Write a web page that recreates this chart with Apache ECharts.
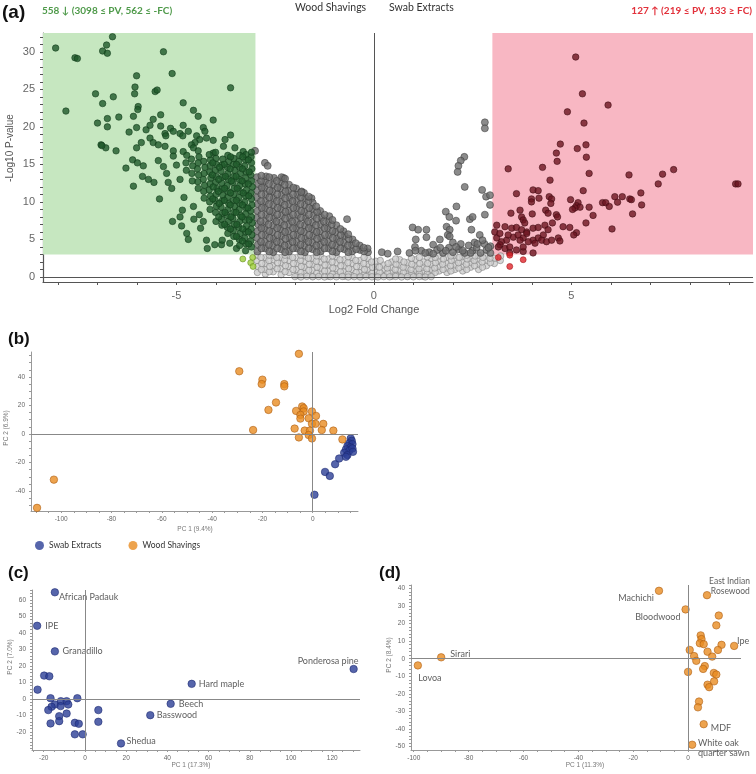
<!DOCTYPE html>
<html><head><meta charset="utf-8">
<script src="https://cdn.jsdelivr.net/npm/echarts@6/dist/echarts.min.js"></script>
<style>html,body{margin:0;padding:0;background:#fff}#c{width:756px;height:774px}</style>
</head><body><div id="c"></div><script>
// ---------- Panel (a) volcano data: [log2FC, -log10 P] ----------
var volcanoDownSig = [
[-8.06,30.5],[-6.62,32.0],[-6.77,30.9],[-6.87,30.1],[-6.75,29.8],[-7.57,29.2],[-7.51,29.1],[-5.33,30.0],[-5.11,27.1],[-6.01,26.8],[-3.63,25.2],[-6.05,25.3],[-6.06,24.4],[-5.54,24.7],[-5.49,24.9],[-7.05,24.4],[-6.6,24.0],[-6.87,23.1],[-7.8,22.1],[-5.97,22.7],[-5.98,22.3],[-4.83,23.2],[-4.57,22.2],[-6.46,21.3],[-6.75,21.1],[-6.09,21.4],[-5.4,21.6],[-5.59,21.0],[-4.45,21.4],[-4.07,20.9],[-7.0,20.5],[-6.75,20.0],[-6.2,19.3],[-6.01,19.9],[-5.77,19.6],[-5.67,20.2],[-5.4,20.1],[-5.15,19.8],[-5.08,19.4],[-4.83,20.2],[-5.29,19.1],[-5.27,18.8],[-4.91,19.1],[-4.84,18.8],[-4.7,19.4],[-4.32,19.9],[-4.28,19.4],[-4.49,18.8],[-4.41,18.3],[-4.53,17.9],[-4.24,18.5],[-4.07,18.2],[-3.77,18.3],[-3.63,18.9],[-6.91,17.6],[-6.79,17.2],[-6.53,16.8],[-6.01,17.2],[-5.89,17.9],[-5.67,18.5],[-5.59,17.9],[-5.46,17.6],[-5.29,17.4],[-5.08,16.8],[-4.83,16.7],[-4.62,17.6],[-4.57,17.2],[-4.45,16.8],[-4.07,16.5],[-3.81,17.4],[-3.52,17.2],[-3.31,16.7],
[-6.89,17.5],[-6.28,14.5],[-6.09,12.1],[-6.11,15.6],[-5.99,15.2],[-5.84,14.8],[-5.86,13.4],[-5.71,13.0],[-5.57,12.6],[-5.43,10.4],[-5.46,15.5],[-5.33,14.7],[-5.25,13.8],[-5.21,12.6],[-5.08,16.1],[-5.0,14.9],[-5.12,11.8],[-4.91,13.0],[-5.1,7.4],[-4.91,8.0],[-4.85,8.9],[-4.87,6.8],[-4.74,5.8],[-4.7,5.0],[-4.81,10.6],[-4.57,9.4],[-4.42,8.3],[-4.56,7.7],[-4.32,7.4],[-4.39,6.5],[-4.24,4.9],[-4.22,3.8],[-4.03,4.3],[-3.86,4.3],[-3.84,4.9],[-3.65,4.5],[-3.48,3.8],
[-3.1,4.0],[-3.12,4.8],[-3.09,5.6],[-3.11,6.4],[-3.08,7.2],[-3.1,8.0],[-3.12,8.8],[-3.09,9.6],[-3.1,10.4],[-3.11,11.2],[-3.08,12.0],[-3.1,12.8],[-3.12,13.6],[-3.09,14.4],[-3.1,15.2],[-3.11,16.0],[-3.1,16.6],
[-3.25,3.5],[-3.24,4.4],[-3.27,5.2],[-3.25,6.0],[-3.23,6.8],[-3.26,7.6],[-3.25,8.4],[-3.24,9.2],[-3.27,10.0],[-3.25,10.8],[-3.23,11.6],[-3.26,12.4],[-3.25,13.2],[-3.24,14.0],[-3.27,14.8],[-3.25,15.6],[-3.24,16.3],
[-3.4,4.2],[-3.41,5.0],[-3.39,5.8],[-3.42,6.6],[-3.4,7.4],[-3.38,8.2],[-3.41,9.0],[-3.4,9.8],[-3.42,10.6],[-3.39,11.4],[-3.4,12.2],[-3.41,13.0],[-3.38,13.8],[-3.4,14.6],[-3.42,15.4],[-3.4,16.2],
[-3.55,5.4],[-3.56,6.2],[-3.54,7.0],[-3.57,7.8],[-3.55,8.6],[-3.53,9.4],[-3.56,10.2],[-3.55,11.0],[-3.54,11.8],[-3.57,12.6],[-3.55,13.4],[-3.53,14.2],[-3.56,15.0],[-3.55,15.8],
[-3.7,5.8],[-3.71,6.6],[-3.69,7.4],[-3.72,8.2],[-3.7,9.0],[-3.68,9.8],[-3.71,10.6],[-3.7,11.4],[-3.72,12.2],[-3.69,13.0],[-3.7,13.8],[-3.71,14.6],[-3.68,15.4],[-3.7,16.2],
[-3.85,6.9],[-3.86,7.7],[-3.84,8.5],[-3.87,9.3],[-3.85,10.1],[-3.83,10.9],[-3.86,11.7],[-3.85,12.5],[-3.84,13.3],[-3.87,14.1],[-3.85,14.9],[-3.83,15.7],
[-4.0,7.4],[-4.01,8.6],[-3.99,9.4],[-4.02,10.2],[-4.0,11.0],[-3.98,11.8],[-4.01,12.6],[-4.0,13.4],[-4.02,14.2],[-3.99,15.0],[-4.0,15.8],[-4.01,16.6],
[-4.15,9.0],[-4.16,10.0],[-4.14,10.8],[-4.17,11.6],[-4.15,12.4],[-4.13,13.2],[-4.16,14.0],[-4.15,14.8],[-4.14,15.6],[-4.17,16.3],
[-4.3,10.5],[-4.31,11.4],[-4.29,12.2],[-4.32,13.0],[-4.3,13.8],[-4.28,14.6],[-4.31,15.4],
[-4.45,11.8],[-4.46,12.7],[-4.44,13.6],[-4.47,14.4],[-4.45,15.2],[-4.43,16.0],
[-4.6,12.8],[-4.61,13.8],[-4.59,14.8],[-4.62,15.7],[-4.75,14.2],[-4.76,15.2],[-4.74,16.2],
[-3.17,4.4],[-3.18,6.0],[-3.16,7.6],[-3.19,9.2],[-3.17,10.8],[-3.18,12.4],[-3.16,14.0],[-3.18,15.6],
[-3.33,4.8],[-3.32,6.4],[-3.34,8.0],[-3.33,9.6],[-3.31,11.2],[-3.34,12.8],[-3.33,14.4],[-3.32,16.0],
[-3.48,5.4],[-3.47,7.0],[-3.49,8.6],[-3.48,10.2],[-3.46,11.8],[-3.49,13.4],[-3.48,15.0],
[-3.63,6.4],[-3.62,8.0],[-3.64,9.6],[-3.63,11.2],[-3.61,12.8],[-3.64,14.4],[-3.63,16.0],
[-3.78,7.0],[-3.77,8.6],[-3.79,10.2],[-3.78,11.8],[-3.76,13.4],[-3.79,15.0],
[-3.93,8.0],[-3.92,9.8],[-3.94,11.4],[-3.93,13.0],[-3.91,14.6],[-4.08,10.4],[-4.07,12.0],[-4.09,13.6],[-4.08,15.2]
];
var volcanoDownNs = [[-3.32,2.4],[-3.07,2.6],[-3.12,1.9],[-3.06,1.4]];
var volcanoMidHigh = [
[-3.01,16.8],[-2.76,15.2],[-2.69,14.8],[-2.29,13.2],[-1.83,11.4],[-1.58,10.5],[-0.68,7.7],
[-2.95,3.4],[-2.94,4.3],[-2.96,5.2],[-2.95,6.1],[-2.93,7.0],[-2.96,7.9],[-2.95,8.8],[-2.94,9.7],[-2.96,10.6],[-2.95,11.5],[-2.93,12.4],[-2.96,13.3],
[-2.75,3.8],[-2.76,4.7],[-2.74,5.6],[-2.77,6.5],[-2.75,7.4],[-2.73,8.3],[-2.76,9.2],[-2.75,10.1],[-2.74,11.0],[-2.77,11.9],[-2.75,12.8],[-2.73,13.4],
[-2.55,3.3],[-2.56,4.2],[-2.54,5.1],[-2.57,6.0],[-2.55,6.9],[-2.53,7.8],[-2.56,8.7],[-2.55,9.6],[-2.54,10.5],[-2.57,11.4],[-2.55,12.3],[-2.53,13.2],
[-2.35,3.7],[-2.36,4.6],[-2.34,5.5],[-2.37,6.4],[-2.35,7.3],[-2.33,8.2],[-2.36,9.1],[-2.35,10.0],[-2.34,10.9],[-2.37,11.8],[-2.35,12.7],[-2.34,13.3],
[-2.15,3.4],[-2.16,4.3],[-2.14,5.2],[-2.17,6.1],[-2.15,7.0],[-2.13,7.9],[-2.16,8.8],[-2.15,9.7],[-2.14,10.6],[-2.17,11.5],[-2.15,12.3],
[-1.95,3.8],[-1.96,4.7],[-1.94,5.6],[-1.97,6.5],[-1.95,7.4],[-1.93,8.3],[-1.96,9.2],[-1.95,10.1],[-1.94,11.0],[-1.97,11.8],
[-1.75,3.3],[-1.76,4.2],[-1.74,5.1],[-1.77,6.0],[-1.75,6.9],[-1.73,7.8],[-1.76,8.7],[-1.75,9.6],[-1.74,10.5],[-1.77,11.2],
[-1.55,3.7],[-1.56,4.6],[-1.54,5.5],[-1.57,6.4],[-1.55,7.3],[-1.53,8.2],[-1.56,9.1],[-1.55,9.9],
[-1.35,3.4],[-1.36,4.3],[-1.34,5.2],[-1.37,6.1],[-1.35,7.0],[-1.33,7.9],[-1.36,8.8],
[-1.15,3.8],[-1.16,4.7],[-1.14,5.6],[-1.17,6.5],[-1.15,7.4],[-1.13,8.1],
[-0.95,3.3],[-0.96,4.2],[-0.94,5.1],[-0.97,6.0],[-0.95,6.9],
[-0.75,3.7],[-0.76,4.6],[-0.74,5.5],[-0.77,6.1],
[-0.55,3.4],[-0.56,4.3],[-0.54,5.0],[-0.35,3.6],[-0.36,4.2],[-0.15,3.3],[-0.16,3.8],[0.2,3.3],[0.35,3.1],
[-2.85,3.8],[-2.86,4.7],[-2.84,5.6],[-2.85,6.5],[-2.87,7.4],[-2.85,8.3],[-2.84,9.2],[-2.86,10.1],[-2.85,11.0],[-2.84,11.9],[-2.86,12.8],[-2.85,13.5],
[-2.65,3.4],[-2.66,4.3],[-2.64,5.2],[-2.65,6.1],[-2.67,7.0],[-2.65,7.9],[-2.64,8.8],[-2.66,9.7],[-2.65,10.6],[-2.64,11.5],[-2.66,12.4],[-2.65,13.3],
[-2.45,3.8],[-2.46,4.7],[-2.44,5.6],[-2.45,6.5],[-2.47,7.4],[-2.45,8.3],[-2.44,9.2],[-2.46,10.1],[-2.45,11.0],[-2.44,11.9],[-2.46,12.8],
[-2.25,3.3],[-2.26,4.2],[-2.24,5.1],[-2.25,6.0],[-2.27,6.9],[-2.25,7.8],[-2.24,8.7],[-2.26,9.6],[-2.25,10.5],[-2.24,11.4],[-2.26,12.3],[-2.25,13.1],
[-2.05,3.8],[-2.06,4.7],[-2.04,5.6],[-2.05,6.5],[-2.07,7.4],[-2.05,8.3],[-2.04,9.2],[-2.06,10.1],[-2.05,11.0],[-2.04,11.9],
[-1.85,3.4],[-1.86,4.3],[-1.84,5.2],[-1.85,6.1],[-1.87,7.0],[-1.85,7.9],[-1.84,8.8],[-1.86,9.7],[-1.85,10.6],[-1.84,11.3],
[-1.65,3.8],[-1.66,4.7],[-1.64,5.6],[-1.65,6.5],[-1.67,7.4],[-1.65,8.3],[-1.64,9.2],[-1.66,10.1],[-1.65,10.7],
[-1.45,3.3],[-1.46,4.2],[-1.44,5.1],[-1.45,6.0],[-1.47,6.9],[-1.45,7.8],[-1.44,8.7],[-1.46,9.4],
[-1.25,3.8],[-1.26,4.7],[-1.24,5.6],[-1.25,6.5],[-1.27,7.4],[-1.25,8.3],
[-1.05,3.4],[-1.06,4.3],[-1.04,5.2],[-1.05,6.1],[-1.07,7.0],[-1.05,7.6],
[-0.85,3.8],[-0.86,4.7],[-0.84,5.6],[-0.85,6.4],[-0.65,3.3],[-0.66,4.2],[-0.64,5.1],[-0.65,5.7],
[-0.45,3.7],[-0.46,4.5],[-0.25,3.4],[-0.26,3.9],
[2.81,20.6],[2.81,19.8],[2.29,16.0],[2.2,15.5],[2.14,14.8],[2.12,14.0],[2.3,12.0],[2.74,11.6],[2.84,10.7],[2.94,10.9],[2.09,9.4],[2.94,9.6],[1.82,8.7],[1.91,8.0],[2.08,7.5],[2.43,7.7],[2.5,8.0],[2.81,8.3],[0.98,6.6],[1.12,6.3],[1.33,6.3],[1.84,6.7],[1.92,6.3],[1.87,5.6],[1.06,5.0],[1.33,5.3],[1.04,4.0],[1.5,4.3],[1.67,5.0],[1.92,5.4],[2.47,6.3],[2.68,5.6],
[1.4,3.3],[1.6,3.6],[1.75,3.2],[1.9,3.9],[2.0,3.3],[2.15,3.7],[2.3,3.2],[2.4,4.2],[2.5,3.5],[2.6,3.9],[2.7,3.2],[2.8,4.4],[2.85,3.6],[2.95,3.2],[2.95,4.1],[2.2,4.4],[2.0,4.6],[1.2,3.5],[0.9,3.2],[0.6,3.4],[2.55,4.6],[2.75,4.9],
[1.5,3.1],[1.68,3.9],[1.82,3.5],[2.08,4.0],[2.25,3.5],[2.45,3.2],[2.62,4.4],[2.9,3.9],[1.3,3.2],[1.05,3.5]
];
var volcanoMidLow = [
[-2.95,0.6],[-2.94,1.4],[-2.96,2.2],[-2.95,2.9],[-2.75,0.4],[-2.76,1.0],[-2.74,1.8],[-2.75,2.6],
[-2.55,0.7],[-2.56,1.5],[-2.54,2.3],[-2.55,2.9],[-2.35,0.3],[-2.36,1.1],[-2.34,1.9],[-2.35,2.6],
[-2.15,0.6],[-2.16,1.4],[-2.14,2.2],[-2.15,2.9],[-1.95,0.2],[-1.96,1.0],[-1.94,1.8],[-1.95,2.6],
[-1.75,0.5],[-1.76,1.3],[-1.74,2.1],[-1.75,2.8],[-1.55,0.1],[-1.56,0.9],[-1.54,1.7],[-1.55,2.5],
[-1.35,0.4],[-1.36,1.2],[-1.34,2.0],[-1.35,2.8],[-1.15,0.1],[-1.16,0.8],[-1.14,1.6],[-1.15,2.4],
[-0.95,0.3],[-0.96,1.1],[-0.94,1.9],[-0.95,2.7],[-0.75,0.1],[-0.76,0.7],[-0.74,1.5],[-0.75,2.3],
[-0.55,0.2],[-0.56,1.0],[-0.54,1.8],[-0.55,2.6],[-0.35,0.1],[-0.36,0.6],[-0.34,1.4],[-0.35,2.2],
[-0.15,0.3],[-0.16,1.0],[-0.14,1.7],[-0.15,2.5],[0.05,0.1],[0.06,0.7],[0.04,1.4],[0.05,2.1],
[0.25,0.3],[0.26,1.0],[0.24,1.6],[0.45,0.1],[0.46,0.6],[0.44,1.3],[0.45,2.0],
[0.65,0.3],[0.66,0.9],[0.64,1.6],[0.65,2.3],[0.85,0.1],[0.86,0.6],[0.84,1.2],[0.85,1.9],
[1.05,0.3],[1.06,0.9],[1.04,1.5],[1.05,2.3],[1.25,0.1],[1.26,0.7],[1.24,1.3],[1.25,2.0],
[1.45,0.4],[1.46,1.0],[1.44,1.7],[1.45,2.5],[1.65,0.8],[1.66,1.4],[1.64,2.1],[1.65,2.8],
[1.85,0.6],[1.86,1.2],[1.84,1.9],[1.85,2.6],[2.05,1.0],[2.06,1.6],[2.04,2.3],[2.05,2.9],
[2.25,0.8],[2.26,1.4],[2.24,2.1],[2.25,2.7],[2.45,1.3],[2.46,1.9],[2.44,2.5],
[2.65,1.0],[2.66,1.7],[2.64,2.4],[2.65,2.9],[2.85,1.5],[2.86,2.2],[2.84,2.8],[3.05,1.8],[3.06,2.5],[3.2,2.2],[3.21,2.8],
[-2.85,1.0],[-2.84,1.8],[-2.86,2.6],[-2.65,0.7],[-2.64,1.4],[-2.66,2.2],[-2.65,2.9],[-2.45,1.1],[-2.44,1.9],[-2.46,2.6],
[-2.25,0.7],[-2.24,1.5],[-2.26,2.3],[-2.25,2.9],[-2.05,1.0],[-2.04,1.8],[-2.06,2.6],[-1.85,0.6],[-1.84,1.4],[-1.86,2.2],[-1.85,2.9],
[-1.65,0.9],[-1.64,1.7],[-1.66,2.5],[-1.45,0.5],[-1.44,1.3],[-1.46,2.1],[-1.45,2.8],[-1.25,0.8],[-1.24,1.6],[-1.26,2.4],
[-1.05,0.4],[-1.04,1.2],[-1.06,2.0],[-1.05,2.8],[-0.85,0.7],[-0.84,1.5],[-0.86,2.3],[-0.65,0.4],[-0.64,1.1],[-0.66,1.9],[-0.65,2.7],
[-0.45,0.6],[-0.44,1.4],[-0.46,2.2],[-0.25,0.3],[-0.24,1.0],[-0.26,1.8],[-0.25,2.6],[-0.05,0.5],[-0.04,1.3],[-0.06,2.0],
[0.15,0.6],[0.14,1.3],[0.16,2.2],[0.35,0.5],[0.34,1.2],[0.36,1.8],[0.55,0.3],[0.54,1.0],[0.56,1.7],[0.55,2.4],
[0.75,0.6],[0.74,1.3],[0.76,2.0],[0.95,0.4],[0.94,1.0],[0.96,1.7],[0.95,2.5],[1.15,0.5],[1.14,1.1],[1.16,1.8],[1.15,2.6],
[1.35,0.4],[1.34,1.1],[1.36,1.8],[1.35,2.7],[1.55,0.6],[1.54,1.2],[1.56,1.9],[1.55,2.6],[1.75,1.0],[1.74,1.7],[1.76,2.4],
[1.95,0.8],[1.94,1.5],[1.96,2.2],[1.95,2.8],[2.15,1.2],[2.14,1.9],[2.16,2.6],[2.35,1.0],[2.34,1.7],[2.36,2.4],[2.35,2.9],
[2.55,1.5],[2.54,2.2],[2.56,2.8],[2.75,1.3],[2.74,2.0],[2.76,2.6],[2.95,1.9],[2.94,2.5],
[-2.0,0.05],[-1.85,0.0],[-1.7,0.08],[-1.55,0.02],[-1.4,0.06],[-1.25,0.0],[-1.1,0.05],[-0.95,0.02],[-0.8,0.07],[-0.65,0.0],[-0.5,0.04],[-0.35,0.0],[-0.2,0.06],[-0.05,0.02],[0.1,0.0],[0.25,0.05],[0.4,0.02],[0.55,0.07],[0.7,0.0],[0.85,0.04],[1.0,0.02],[1.15,0.06],[1.3,0.0],[1.45,0.05]
];
var volcanoUpSig = [
[5.11,29.3],[5.28,24.4],[5.93,22.9],[4.9,22.0],[5.32,20.5],[4.72,17.7],[5.15,17.1],[5.37,17.6],[4.62,16.5],[5.38,15.96],[4.64,15.4],[3.4,14.4],[4.27,14.6],[5.45,13.8],[4.46,12.9],[6.46,13.6],[7.31,13.7],[7.59,14.3],[7.2,12.4],[9.16,12.4],[9.22,12.4],[3.61,11.1],[4.03,11.6],[4.16,11.5],[3.99,10.4],[3.99,10.0],[4.18,10.5],[4.44,10.7],[4.5,10.4],[4.48,9.8],[5.3,11.5],[4.98,10.3],[5.17,9.9],[5.13,9.5],[5.22,9.3],[5.09,9.2],[5.03,9.0],[5.45,9.3],[5.55,8.2],[5.79,9.9],[5.87,9.9],[5.96,9.4],[6.1,10.7],[6.29,10.7],[6.17,9.96],[6.48,10.4],[6.52,10.3],[6.76,11.2],[6.78,9.6],[6.55,8.4],[6.03,6.4],[5.37,7.2],[3.47,8.5],[3.7,8.9],[3.74,8.0],[3.78,7.6],[3.82,7.2],[4.01,8.4],[4.35,8.9],[4.41,8.5],[4.62,8.3],[4.65,8.0],[4.52,7.2],[4.79,6.7],[4.96,6.6],[5.13,5.9],[5.06,5.6],
[3.11,6.9],[3.32,6.7],[3.49,6.5],[3.61,6.6],[3.74,6.3],[3.87,6.0],[4.03,6.5],[4.16,6.6],[4.33,6.9],[4.41,6.3],[4.29,5.6],[4.16,5.2],[4.03,4.9],[3.78,5.2],[3.7,4.9],[3.53,5.3],[3.36,4.9],[3.23,4.7],[3.11,5.2],[3.06,6.0],[3.19,4.3],[3.32,3.8],[3.44,4.0],[3.61,3.6],[3.78,3.4],[4.03,3.2],[4.08,4.5],[4.25,4.9],[4.37,4.7],[4.5,4.9],[4.67,5.2],[4.71,4.8],[3.91,4.7],[3.4,5.6],[3.87,5.8],[3.65,5.6],[3.19,5.8],[3.15,4.0],[3.44,3.2],[3.78,4.0]
];
var volcanoUpNs = [[3.15,2.6],[3.44,2.9],[3.44,1.4],[3.78,2.3]];
var volcanoXLabels = [-5, 0, 5];
var volcanoYLabels = [0, 5, 10, 15, 20, 25, 30];

// ---------- Panel (b) PCA all samples: [PC1, PC2] ----------
var pcaSwab = [[15.1,-3.1],[15.5,-4.7],[14.5,-6.6],[15.8,-7.1],[13.8,-8.5],[15.1,-9.4],[13.2,-10.8],[14.5,-11.8],[12.5,-13.2],[13.8,-14.8],[13.2,-16.0],[10.5,-17.2],[8.9,-21.2],[4.9,-26.6],[6.8,-29.4],[0.7,-42.6],[15.8,-10.1],[16.0,-12.5]];
var pcaWood = [[-5.5,56.2],[-29.2,44.0],[-20.0,38.1],[-20.3,35.0],[-11.3,35.0],[-11.3,33.4],[-14.6,22.1],[-17.6,16.9],[-6.6,16.2],[-4.2,19.3],[-3.6,18.1],[-3.6,15.8],[-4.9,13.4],[-4.9,10.8],[-0.3,15.8],[1.3,12.7],[-1.6,11.0],[-0.3,7.1],[1.1,7.1],[4.2,7.1],[3.6,2.8],[8.2,2.4],[-7.2,3.8],[-3.2,2.4],[-1.1,2.4],[-1.6,-0.7],[-5.5,-2.4],[-0.3,-3.1],[-23.7,2.8],[11.8,-3.8],[-102.9,-32.0],[-109.6,-51.8]];
var pcaBXLabels = [-100, -80, -60, -40, -20, 0];
var pcaBYLabels = [-40, -20, 0, 20, 40];

// ---------- Panel (c) swab extracts: [PC1, PC2, label] ----------
var swabPCA = [[-14.6,64.6,'African Padauk'],[-23.2,44.3,'IPE'],[-14.6,28.8,'Granadillo'],[-19.8,14.1,''],[-17.3,13.7,''],[-23.0,5.6,''],[-16.7,0.4,''],[-3.7,0.4,''],[-11.7,-1.4,''],[-8.9,-1.4,''],[-14.6,-3.4,''],[-11.8,-4.4,''],[-8.1,-3.4,''],[-16.2,-4.8,''],[-17.8,-6.8,''],[-12.5,-10.5,''],[-8.9,-8.9,''],[-12.5,-13.5,''],[-16.7,-14.9,''],[-4.9,-14.5,''],[-3.0,-15.1,''],[-4.9,-21.5,''],[-1.1,-21.5,''],[6.5,-6.8,''],[6.5,-13.9,''],[17.5,-27.0,'Shedua'],[31.7,-9.9,'Basswood'],[41.6,-3.0,'Beech'],[51.8,9.1,'Hard maple'],[130.4,18.1,'Ponderosa pine']];
var swabXLabels = [-20, 0, 20, 40, 60, 80, 100, 120];
var swabYLabels = [-20, -10, 0, 10, 20, 30, 40, 50, 60];

// ---------- Panel (d) wood shavings: [PC1, PC2, label] ----------
var woodPCA = [[-10.6,38.7,'Machichi'],[-0.9,28.1,'Bloodwood'],[6.9,36.2,'East Indian\nRosewood'],[11.2,24.6,''],[10.3,19.0,''],[4.6,13.3,''],[4.9,11.2,''],[4.3,8.8,''],[5.7,8.3,''],[16.8,7.3,'Ipe'],[12.2,7.9,''],[10.9,5.0,''],[0.6,5.0,''],[7.1,4.0,''],[8.8,1.2,''],[2.2,1.5,''],[3.0,-1.2,''],[6.1,-4.2,''],[5.5,-5.8,''],[0.0,-7.5,''],[9.4,-8.1,''],[10.3,-9.0,''],[9.5,-12.9,''],[7.1,-14.8,''],[7.7,-16.2,''],[4.0,-24.4,''],[3.6,-27.7,''],[5.7,-37.3,'MDF'],[1.5,-49.0,'White oak\nquarter sawn'],[-90.0,0.8,'Sirari'],[-98.5,-3.8,'Lovoa']];
var woodXLabels = [-100, -80, -60, -40, -20, 0];
var woodYLabels = [-50, -40, -30, -20, -10, 0, 10, 20, 30, 40];

// ---------- styling / placement (not data) ----------
function range(a, b, s) { var r = []; for (var v = a; v <= b + 1e-9; v += s) r.push(+v.toFixed(4)); return r; }
var labelPlace = {
  'African Padauk': {position: 'right', offset: [-5, 5]},
  'IPE': {position: 'right', offset: [-1, 0]},
  'Granadillo': {position: 'right', offset: [-1.5, 0]},
  'Shedua': {position: 'right', offset: [-3.5, -2]},
  'Basswood': {position: 'right', offset: [-2.5, 0]},
  'Beech': {position: 'right', offset: [-1, 0]},
  'Hard maple': {position: 'right', offset: [-2, 0]},
  'Ponderosa pine': {position: 'top', offset: [-25.5, 6]},
  'Machichi': {position: 'left', offset: [4, 7]},
  'Bloodwood': {position: 'left', offset: [4, 8]},
  'East Indian\nRosewood': {position: [47, -15], align: 'right', verticalAlign: 'top', fontSize: 8.5},
  'Ipe': {position: [7, -6], align: 'left', verticalAlign: 'top'},
  'MDF': {position: 'right', offset: [-2, 4]},
  'White oak\nquarter sawn': {position: [10, -3], align: 'left', verticalAlign: 'top'},
  'Sirari': {position: 'right', offset: [0, -3]},
  'Lovoa': {position: 'bottom', offset: [12, -1]}
};
function labeled(arr) {
  return arr.map(function (d) {
    var o = {value: [d[0], d[1]], name: d[2]};
    if (d[2]) {
      var p = labelPlace[d[2]] || {position: 'right'};
      o.label = Object.assign({show: true, formatter: d[2], color: '#333', fontSize: 9, fontFamily: 'Lato', lineHeight: 10}, p);
    }
    return o;
  });
}

var tickFont = {fontFamily: 'Liberation Sans', color: '#666'};
function pcaAxis(gridIndex, min, max, labels, ticks, isX) {
  return {
    type: 'value', gridIndex: gridIndex, min: min, max: max,
    axisLine: {show: true, onZero: false, lineStyle: {color: '#999', width: 1}},
    axisTick: {show: true, length: 2, customValues: ticks, lineStyle: {color: '#999'}},
    axisLabel: Object.assign({show: true, customValues: labels, fontSize: 6.5, margin: isX ? 5 : 6}, tickFont),
    splitLine: {show: false}
  };
}
function zeroLines(color) {
  return {silent: true, symbol: 'none', animation: false, label: {show: false},
    lineStyle: {color: color, width: 1, type: 'solid'}, data: [{xAxis: 0}, {yAxis: 0}]};
}

var dotBase = {symbol: 'circle', animation: false, silent: true};

var option = {
  animation: false,
  grid: [
    {left: 43, top: 33, width: 710, height: 249},
    {left: 31, top: 352, width: 327, height: 159},
    {left: 32, top: 590, width: 328, height: 160},
    {left: 411, top: 585, width: 330, height: 165}
  ],
  xAxis: [
    {type: 'value', gridIndex: 0, min: -8.38, max: 9.6,
     axisLine: {show: true, onZero: false, lineStyle: {color: '#555', width: 1.2}},
     axisTick: {show: true, length: 3, customValues: range(-8, 9, 1), lineStyle: {color: '#555'}},
     axisLabel: Object.assign({customValues: volcanoXLabels, fontSize: 11, margin: 8}, tickFont),
     splitLine: {show: false}},
    pcaAxis(1, -112, 18, pcaBXLabels, range(-110, 15, 5), true),
    pcaAxis(2, -25.7, 133.5, swabXLabels, range(-25, 130, 5), true),
    pcaAxis(3, -101, 19.3, woodXLabels, range(-100, 15, 5), true)
  ],
  yAxis: [
    {type: 'value', gridIndex: 0, min: -0.67, max: 32.5,
     axisLine: {show: true, onZero: false, lineStyle: {color: '#555', width: 1.2}},
     axisTick: {show: true, length: 3, customValues: range(0, 32, 1), lineStyle: {color: '#555'}},
     axisLabel: Object.assign({customValues: volcanoYLabels, fontSize: 11, margin: 8}, tickFont),
     splitLine: {show: false}},
    pcaAxis(1, -54, 57.5, pcaBYLabels, range(-50, 55, 5), false),
    pcaAxis(2, -31, 66, swabYLabels, range(-30, 66, 2), false),
    pcaAxis(3, -52, 42, woodYLabels, range(-50, 42, 2), false)
  ],
  legend: {
    left: 30, top: 536, itemWidth: 9, itemHeight: 9, itemGap: 27, icon: 'circle',
    itemStyle: {borderWidth: 0},
    data: ['Swab Extracts', 'Wood Shavings'],
    textStyle: {fontFamily: 'Lato', fontSize: 8.5, color: '#333'}
  },
  series: [
    {type: 'scatter', xAxisIndex: 0, yAxisIndex: 0, data: [], z: 1, silent: true,
     markArea: {silent: true, data: [
       [{xAxis: -8.38, yAxis: 3, itemStyle: {color: '#c6e7c0'}}, {xAxis: -3, yAxis: 32.5}],
       [{xAxis: 3, yAxis: 3, itemStyle: {color: '#f8b7c3'}}, {xAxis: 9.6, yAxis: 32.5}]
     ]},
     markLine: zeroLines('#555')},
    Object.assign({type: 'scatter', name: 'v-mid-low', xAxisIndex: 0, yAxisIndex: 0, data: volcanoMidLow, symbolSize: 6.5, z: 3,
     itemStyle: {color: '#cdcdcd', borderColor: '#7a7a7a', borderWidth: 0.7}}, dotBase),
    Object.assign({type: 'scatter', name: 'v-mid-high', xAxisIndex: 0, yAxisIndex: 0, data: volcanoMidHigh, symbolSize: 7, z: 3,
     itemStyle: {color: '#6e6e6e', borderColor: '#3d3d3d', borderWidth: 0.7}}, dotBase),
    Object.assign({type: 'scatter', name: 'v-down', xAxisIndex: 0, yAxisIndex: 0, data: volcanoDownSig, symbolSize: 6.5, z: 4,
     itemStyle: {color: '#1f5a2b', borderColor: '#113a19', borderWidth: 0.7}}, dotBase),
    Object.assign({type: 'scatter', name: 'v-down-ns', xAxisIndex: 0, yAxisIndex: 0, data: volcanoDownNs, symbolSize: 6, z: 4,
     itemStyle: {color: '#9ccc3a', borderColor: '#5f8a1c', borderWidth: 0.7}}, dotBase),
    Object.assign({type: 'scatter', name: 'v-up', xAxisIndex: 0, yAxisIndex: 0, data: volcanoUpSig, symbolSize: 6.5, z: 4,
     itemStyle: {color: '#6c1520', borderColor: '#3e0a12', borderWidth: 0.7}}, dotBase),
    Object.assign({type: 'scatter', name: 'v-up-ns', xAxisIndex: 0, yAxisIndex: 0, data: volcanoUpNs, symbolSize: 6, z: 4,
     itemStyle: {color: '#e0262c', borderColor: '#a01418', borderWidth: 0.7}}, dotBase),
    Object.assign({type: 'scatter', name: 'Swab Extracts', xAxisIndex: 1, yAxisIndex: 1, data: pcaSwab, symbolSize: 7.5, z: 3,
     itemStyle: {color: '#2c3e96', borderColor: '#1b2870', borderWidth: 0.7},
     markLine: zeroLines('#888')}, dotBase),
    Object.assign({type: 'scatter', name: 'Wood Shavings', xAxisIndex: 1, yAxisIndex: 1, data: pcaWood, symbolSize: 7.5, z: 4,
     itemStyle: {color: '#e98c22', borderColor: '#a85a10', borderWidth: 0.7}}, dotBase),
    Object.assign({type: 'scatter', name: 'swab-c', xAxisIndex: 2, yAxisIndex: 2, data: labeled(swabPCA), symbolSize: 7.5, z: 3,
     itemStyle: {color: '#2c3e96', borderColor: '#1b2870', borderWidth: 0.7},
     markLine: zeroLines('#888')}, dotBase),
    Object.assign({type: 'scatter', name: 'wood-d', xAxisIndex: 3, yAxisIndex: 3, data: labeled(woodPCA), symbolSize: 7.5, z: 3,
     itemStyle: {color: '#e98c22', borderColor: '#a85a10', borderWidth: 0.7},
     markLine: zeroLines('#888')}, dotBase)
  ],
  graphic: [
    {type: 'text', x: 2, y: 3, style: {text: '(a)', font: 'bold 19px "Liberation Sans"', fill: '#111'}},
    {type: 'text', x: 42, y: 6, style: {text: '558 ↓ (3098 ≤ PV, 562 ≤ -FC)', font: 'bold 10px Lato', fill: '#4f9a4a'}},
    {type: 'text', x: 295, y: 2, style: {text: 'Wood Shavings', font: '10.5px Lato', fill: '#333'}},
    {type: 'text', x: 389, y: 2, style: {text: 'Swab Extracts', font: '10.5px Lato', fill: '#333'}},
    {type: 'text', x: 752, y: 6, style: {text: '127 ↑ (219 ≤ PV, 133 ≥ FC)', font: 'bold 10px Lato', fill: '#e2313b', textAlign: 'right', align: 'right'}},
    {type: 'text', x: 10, y: 148, rotation: Math.PI / 2, style: {text: '-Log10 P-value', font: '10px "Liberation Sans"', fill: '#555', textAlign: 'center', align: 'center', textVerticalAlign: 'middle', verticalAlign: 'middle'}},
    {type: 'text', x: 374, y: 310, style: {text: 'Log2 Fold Change', font: '11px "Liberation Sans"', fill: '#555', textAlign: 'center', align: 'center', textVerticalAlign: 'middle', verticalAlign: 'middle'}},
    {type: 'text', x: 8, y: 331, style: {text: '(b)', font: 'bold 17px "Liberation Sans"', fill: '#111'}},
    {type: 'text', x: 6, y: 428, rotation: Math.PI / 2, style: {text: 'PC 2 (6.9%)', font: '6.5px "Liberation Sans"', fill: '#777', textAlign: 'center', align: 'center', textVerticalAlign: 'middle', verticalAlign: 'middle'}},
    {type: 'text', x: 195, y: 529, style: {text: 'PC 1 (9.4%)', font: '6.5px "Liberation Sans"', fill: '#777', textAlign: 'center', align: 'center', textVerticalAlign: 'middle', verticalAlign: 'middle'}},
    {type: 'text', x: 8, y: 565, style: {text: '(c)', font: 'bold 17px "Liberation Sans"', fill: '#111'}},
    {type: 'text', x: 10, y: 657, rotation: Math.PI / 2, style: {text: 'PC 2 (7.0%)', font: '6.5px "Liberation Sans"', fill: '#777', textAlign: 'center', align: 'center', textVerticalAlign: 'middle', verticalAlign: 'middle'}},
    {type: 'text', x: 191, y: 765, style: {text: 'PC 1 (17.3%)', font: '6.5px "Liberation Sans"', fill: '#777', textAlign: 'center', align: 'center', textVerticalAlign: 'middle', verticalAlign: 'middle'}},
    {type: 'text', x: 379, y: 565, style: {text: '(d)', font: 'bold 17px "Liberation Sans"', fill: '#111'}},
    {type: 'text', x: 389, y: 655, rotation: Math.PI / 2, style: {text: 'PC 2 (8.4%)', font: '6.5px "Liberation Sans"', fill: '#777', textAlign: 'center', align: 'center', textVerticalAlign: 'middle', verticalAlign: 'middle'}},
    {type: 'text', x: 585, y: 765, style: {text: 'PC 1 (11.3%)', font: '6.5px "Liberation Sans"', fill: '#777', textAlign: 'center', align: 'center', textVerticalAlign: 'middle', verticalAlign: 'middle'}}
  ]
};
var chart = echarts.init(document.getElementById('c'), null, {renderer: 'canvas'});
chart.setOption(option);
</script></body></html>
